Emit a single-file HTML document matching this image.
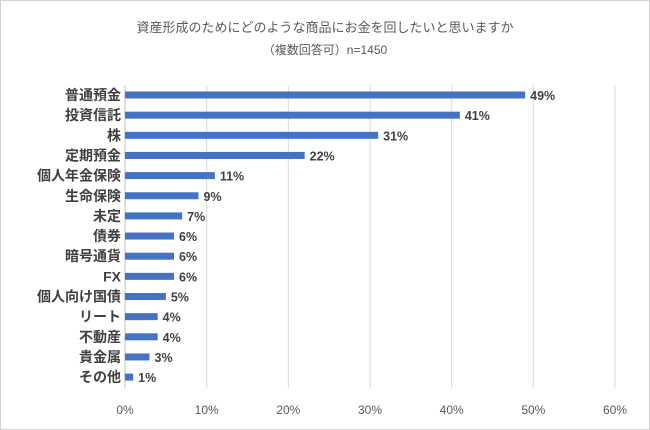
<!DOCTYPE html>
<html><head><meta charset="utf-8"><style>
body{margin:0;background:#fff}
svg{display:block;font-family:"Liberation Sans","Noto Sans CJK JP",sans-serif}
</style></head><body>
<svg id="c" width="650" height="430">
<rect x="0.5" y="0.5" width="649" height="429" fill="#fff" stroke="#d0d0d0"/>
<text x="325" y="32" text-anchor="middle" font-size="13" fill="#595959">資産形成のためにどのような商品にお金を回したいと思いますか</text>
<text x="325" y="54" text-anchor="middle" font-size="12" fill="#595959">（複数回答可）n=1450</text>
<g id="g"></g>
</svg>
<script>
const categories=["普通預金","投資信託","株","定期預金","個人年金保険","生命保険","未定","債券","暗号通貨","FX","個人向け国債","リート","不動産","貴金属","その他"];
const values=[49,41,31,22,11,9,7,6,6,6,5,4,4,3,1];
const ticks=[0,10,20,30,40,50,60];
const x0=125,x1=615,y0=95,step=20.15,bh=7,yTop=85,yBot=388;
const xs=v=>x0+(x1-x0)*v/60;
const ys=i=>y0+i*step;
const g=document.getElementById('g');
const ns='http://www.w3.org/2000/svg';
function mk(t,a){const e=document.createElementNS(ns,t);for(const k in a)e.setAttribute(k,a[k]);g.appendChild(e);return e;}
ticks.forEach(t=>{
 if(t>0){const l=mk('line',{x1:xs(t),x2:xs(t),y1:yTop,y2:yBot,stroke:'#d9d9d9'});
 
 }
 const tx=mk('text',{x:xs(t),y:414,'text-anchor':'middle','font-size':12,fill:'#595959'});tx.textContent=t+'%';
 
 
});
const ax=mk('line',{x1:x0,x2:x0,y1:yTop,y2:yBot,stroke:'#bfbfbf'});


categories.forEach((c,i)=>{
 const y=ys(i);
 const r=mk('rect',{x:x0,y:y-bh/2,width:xs(values[i])-x0,height:bh,fill:'#4472c4'});
 
 
 const lb=mk('text',{x:x0-4,y:y+5,'text-anchor':'end','font-size':14,'font-weight':'bold',fill:'#404040'});lb.textContent=c;
 
 
 const v=mk('text',{x:xs(values[i])+5,y:y+5,'font-size':12.5,'font-weight':'bold',fill:'#404040'});v.textContent=values[i]+'%';
 
 
});
</script>
</body></html>
